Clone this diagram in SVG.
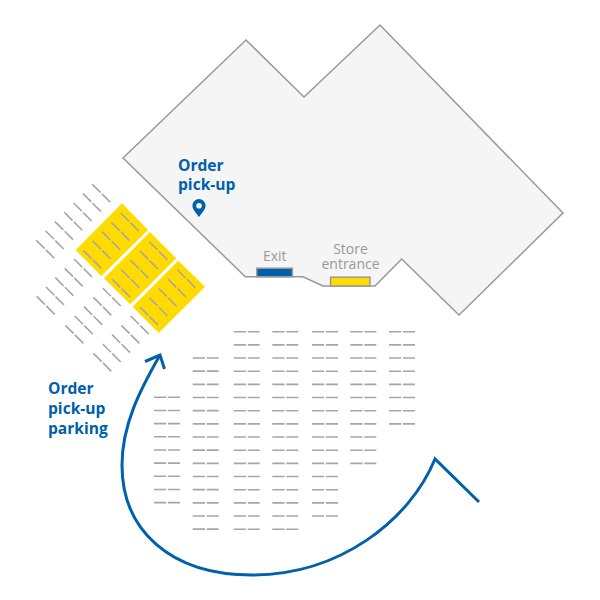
<svg xmlns="http://www.w3.org/2000/svg" xmlns:xlink="http://www.w3.org/1999/xlink" width="600" height="600" viewBox="0 0 600 600">
<style>
.lbl{font-family:"Open Sans","Noto Sans",sans-serif;font-size:15.6px;font-weight:700;fill:#0060ab}
.grey{font-family:"Open Sans","Noto Sans",sans-serif;font-size:14px;fill:#999;text-anchor:middle}
.slot{fill:#ffdb00}
.dash{stroke:#a6a6a6;stroke-width:1.6;fill:none}
</style>
<defs>
<g id="h" class="dash"><path d="M0 0H12.3M14 0H26"/></g>
<g id="d" class="dash"><path d="M0 0L8.3 8.3M9.6 9.6L18 18"/></g>
<g id="c5"><use xlink:href="#d"/><use xlink:href="#d" x="-9.33" y="9.33"/><use xlink:href="#d" x="-18.67" y="18.67"/><use xlink:href="#d" x="-28" y="28"/><use xlink:href="#d" x="-37.33" y="37.33"/></g>
<g id="r4"><use xlink:href="#h"/><use xlink:href="#h" y="13.17"/><use xlink:href="#h" y="26.33"/><use xlink:href="#h" y="39.5"/></g>
<g id="r8"><use xlink:href="#r4"/><use xlink:href="#r4" y="52.67"/></g>
</defs>
<g id="building">
<path d="M123 158L246 40L304 97L380 25L563 213L459 315L401.7 259L375 286H323L303 276.7H245.3Z" fill="#f5f5f5" stroke="#999" stroke-width="1.5" stroke-linejoin="miter"/>
</g>
<g id="exit">
<rect x="256.8" y="268.2" width="35.6" height="8.5" fill="#0060ab" stroke="#999" stroke-width="1.5"/>
<text class="grey" x="274.7" y="261">Exit</text>
</g>
<g id="store-entrance">
<rect x="330.6" y="277.2" width="39.4" height="8.8" fill="#ffdb00" stroke="#999" stroke-width="1.5"/>
<text class="grey" x="350.5" y="254">Store<tspan x="350.5" dy="15">entrance</tspan></text>
</g>
<g id="order-pick-up">
<text class="lbl" x="178" y="171">Order<tspan x="178" dy="19">pick-up</tspan></text>
<path fill-rule="evenodd" d="M199 217C196 213 192.4 209.6 192.4 205.6A6.6 6.6 0 0 1 205.6 205.6C205.6 209.6 202 213 199 217ZM199 203A2.8 2.8 0 1 0 199 208.6A2.8 2.8 0 1 0 199 203Z" fill="#0060ab"/>
</g>
<g id="order-pick-up-parking">
<polygon class="slot" points="122,203.3 148,230 101.3,276 75.7,250"/>
<polygon class="slot" points="150,232 176.3,258.3 130.3,304.3 104,278.3"/>
<polygon class="slot" points="178.3,260.7 205,286.7 158.7,333 132.7,306.7"/>
<use xlink:href="#c5" x="120.7" y="213"/>
<use xlink:href="#c5" x="149.3" y="241.7"/>
<use xlink:href="#c5" x="177.3" y="269.7"/>
<text class="lbl" x="48" y="394">Order<tspan x="48" dy="20">pick-up</tspan><tspan x="48" dy="20">parking</tspan></text>
</g>
<g id="angled-parking">
<use xlink:href="#c5" x="92.3" y="184.3"/>
<use xlink:href="#d" x="45.7" y="231"/>
<use xlink:href="#d" x="36.3" y="240.3"/>
<use xlink:href="#c5" x="74" y="259"/>
<use xlink:href="#c5" x="102.7" y="288"/>
<use xlink:href="#c5" x="130.7" y="316"/>
</g>
<g id="parking-grid">
<g transform="translate(154 397.3)"><use xlink:href="#r8"/><use xlink:href="#h" y="105.33"/></g>
<g transform="translate(192.7 358)"><use xlink:href="#r8"/><use xlink:href="#r4" y="105.33"/><use xlink:href="#h" y="158"/><use xlink:href="#h" y="171.17"/></g>
<g transform="translate(233.7 331.7)"><use xlink:href="#r8"/><use xlink:href="#r8" y="105.33"/></g>
<g transform="translate(272.3 331.7)"><use xlink:href="#r8"/><use xlink:href="#r8" y="105.33"/></g>
<g transform="translate(312 331.7)"><use xlink:href="#r8"/><use xlink:href="#r4" y="105.33"/><use xlink:href="#h" y="158"/><use xlink:href="#h" y="171.17"/><use xlink:href="#h" y="184.33"/></g>
<g transform="translate(350.3 331.7)"><use xlink:href="#r8"/><use xlink:href="#h" y="105.33"/><use xlink:href="#h" y="118.5"/><use xlink:href="#h" y="131.67"/></g>
<g transform="translate(389 331.7)"><use xlink:href="#r8"/></g>
</g>
<g id="connectors" fill="none" stroke="#0060ab" stroke-width="3">
<path d="M479 502L435 459C410 520 340 575 252 575C170 575 122 530 122 465C122 425 140 390 160 355"/>
<path d="M145 361.5L160 355L164.5 369"/>
</g>
</svg>
